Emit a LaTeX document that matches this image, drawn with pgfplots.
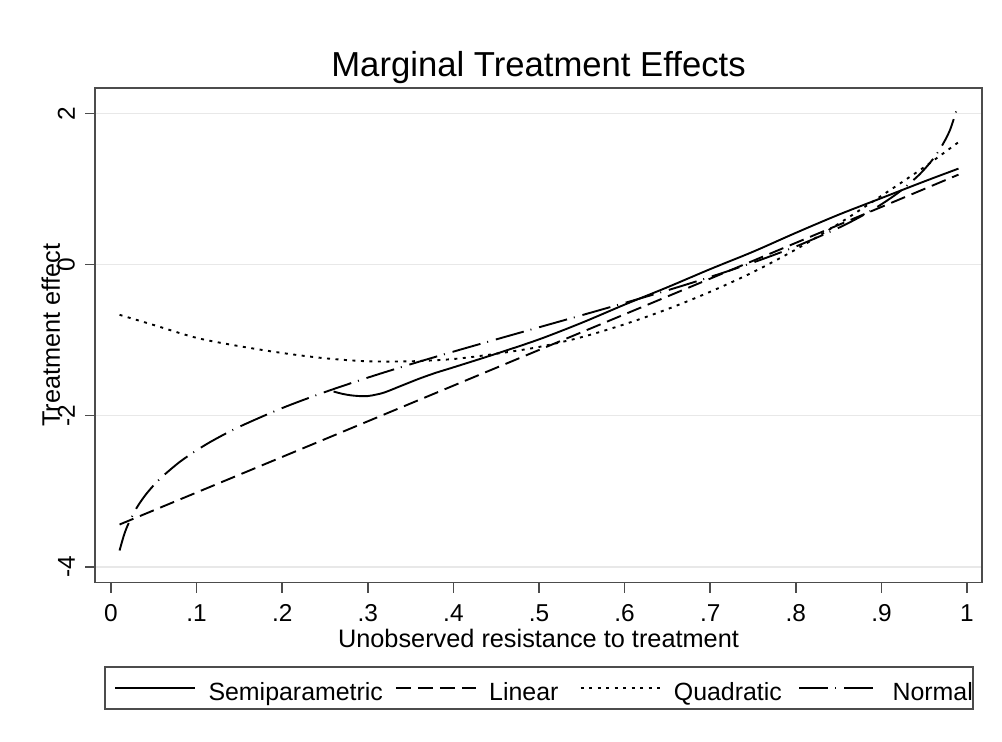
\documentclass[border=0pt]{standalone}
\usepackage{pgfplots}
\pgfplotsset{compat=1.18}
\usepackage{fontspec}
\setmainfont{Liberation Sans}
\newcommand{\lstrut}{\rule[-8.7bp]{0pt}{35.7bp}}
\pgfplotsset{normallegend/.style={legend image code/.code={\path (0bp,0bp); \draw[##1] (6bp,0bp) -- (80bp,0bp);}}}
\begin{document}
\begin{tikzpicture}
\path[use as bounding box] (0bp,0bp) rectangle (1002bp,742bp);
\begin{axis}[
  at={(95bp,159.3bp)}, anchor=south west,
  width=887bp, height=494.7bp, scale only axis,
  xmin=-0.0187, xmax=1.0175, ymin=-4.21, ymax=2.337,
  xtick={0,0.1,0.2,0.3,0.4,0.5,0.6,0.7,0.8,0.9,1},
  xticklabels={0,.1,.2,.3,.4,.5,.6,.7,.8,.9,1},
  ytick={-4,-2,0,2},
  yticklabels={{-4},{-2},{0},{2}},
  tick pos=left, tick align=outside, major tick length=10bp,
  tick style={black!70, line width=1.5bp},
  axis line style={black!70, line width=1.6bp},
  ymajorgrids, grid style={gray!18, line width=1.5bp},
  xticklabel style={font=\fontsize{24.5}{29}\selectfont, anchor=north, inner sep=0pt},
  yticklabel style={font=\fontsize{24.5}{29}\selectfont, rotate=90, anchor=south, inner sep=0pt},
  xticklabel shift=12bp, yticklabel shift=10bp,
  title={Marginal Treatment Effects},
  title style={at={(axis description cs:0.5,1)}, anchor=base, yshift=6bp, font=\fontsize{34.8}{40}\selectfont, inner sep=0pt},
  xlabel={Unobserved resistance to treatment},
  xlabel style={at={(axis description cs:0.5,0)}, anchor=base, yshift=-64.3bp, font=\fontsize{25.4}{30}\selectfont, inner sep=0pt},
  ylabel={Treatment effect},
  ylabel style={at={(axis description cs:-0.0395,0.5)}, anchor=base, font=\fontsize{25.4}{30}\selectfont, inner sep=0pt},
  legend columns=4,
  legend style={at={(axis description cs:0.0107,-0.1684)}, anchor=north west,
    draw=black!70, line width=1.5bp, inner xsep=9bp, inner ysep=5bp,
    font=\fontsize{25}{30}\selectfont,
    /tikz/every odd column/.style={column sep=10.4bp},
    /tikz/every even column/.style={column sep=0bp},
    cells={anchor=west, inner sep=0pt}},
  legend image code/.code={\draw[#1] (0bp,0bp) -- (80bp,0bp);},
]
% Semiparametric
\addplot[black, line width=1.9bp, smooth] coordinates {
(0.26,-1.68) (0.27,-1.71) (0.28,-1.73) (0.29,-1.74) (0.30,-1.74) (0.31,-1.72)
(0.32,-1.69) (0.34,-1.60) (0.36,-1.51) (0.38,-1.43) (0.40,-1.36) (0.45,-1.18)
(0.50,-0.99) (0.55,-0.77) (0.60,-0.53) (0.65,-0.30) (0.70,-0.06) (0.75,0.17)
(0.80,0.42) (0.85,0.66) (0.90,0.88) (0.95,1.10) (0.99,1.27)};
\addlegendentry{\makebox[184.4bp][l]{Semiparametric\lstrut}}
% Linear
\addplot[black, line width=1.9bp, dash pattern=on 15bp off 7bp] coordinates {
(0.01,-3.44) (0.25,-2.31) (0.50,-1.13) (0.75,0.05) (0.99,1.19)};
\addlegendentry{\makebox[88.4bp][l]{Linear\lstrut}}
% Quadratic
\addplot[black, line width=1.9bp, dash pattern=on 3bp off 5.5bp, smooth] coordinates {
(0.01,-0.665) (0.05,-0.80) (0.10,-0.97) (0.15,-1.08) (0.20,-1.17) (0.25,-1.24)
(0.30,-1.28) (0.35,-1.28) (0.40,-1.25) (0.45,-1.18) (0.50,-1.09) (0.55,-0.96)
(0.60,-0.79) (0.65,-0.59) (0.70,-0.36) (0.75,-0.10) (0.80,0.20) (0.85,0.54)
(0.90,0.91) (0.95,1.29) (0.99,1.62)};
\addlegendentry{\makebox[116.4bp][l]{Quadratic\lstrut}}
% Normal
\addplot[black, line width=1.9bp, dash pattern=on 29bp off 7bp on 1bp off 8bp, smooth, normallegend] coordinates {
(0.01,-3.784) (0.015,-3.586) (0.02,-3.438) (0.03,-3.219) (0.04,-3.053) (0.05,-2.919)
(0.06,-2.805) (0.08,-2.614) (0.10,-2.458) (0.12,-2.322) (0.15,-2.146) (0.20,-1.899)
(0.25,-1.687) (0.30,-1.496) (0.35,-1.319) (0.40,-1.152) (0.45,-0.990) (0.50,-0.830)
(0.55,-0.670) (0.60,-0.508) (0.65,-0.341) (0.70,-0.164) (0.75,0.027) (0.80,0.239)
(0.85,0.486) (0.88,0.662) (0.90,0.798) (0.92,0.954) (0.94,1.145) (0.95,1.259)
(0.96,1.393) (0.97,1.559) (0.98,1.778) (0.99,2.124)};
\addlegendentry{\makebox[75.4bp][l]{\hspace*{6bp}Normal\lstrut}}
\end{axis}
\end{tikzpicture}
\end{document}
